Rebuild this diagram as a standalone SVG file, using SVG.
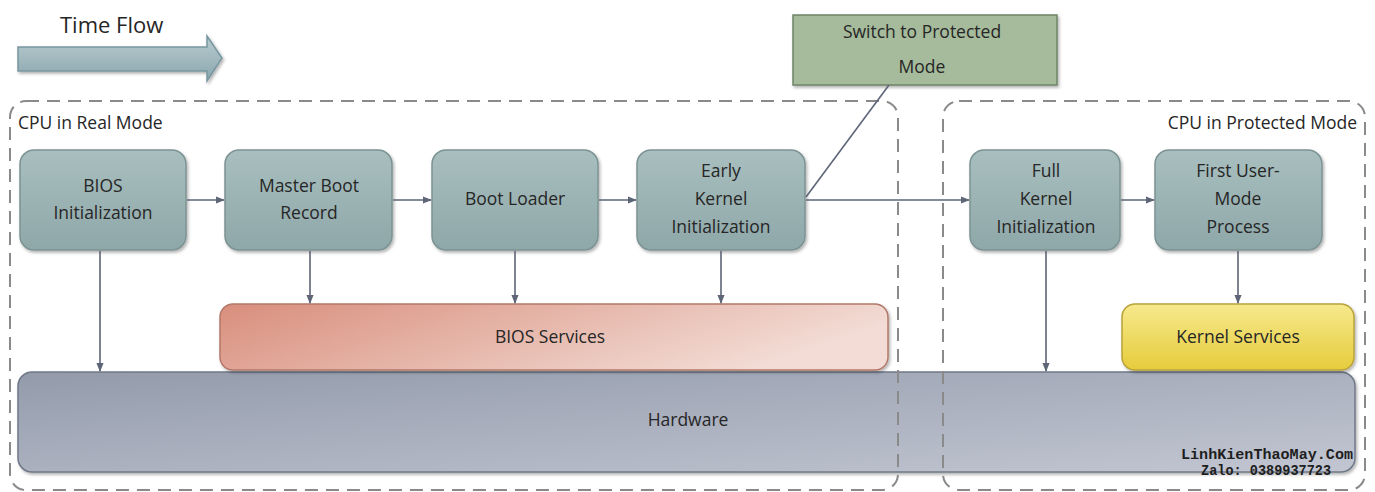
<svg xmlns="http://www.w3.org/2000/svg" width="1375" height="492" viewBox="0 0 1375 492">
<defs>
<linearGradient id="gNode" x1="0" y1="0" x2="0" y2="1"><stop offset="0" stop-color="#a9bfbf"/><stop offset="1" stop-color="#8ea7a8"/></linearGradient>
<linearGradient id="gBios" x1="0" y1="0" x2="1" y2="0.3"><stop offset="0" stop-color="#d98e7c"/><stop offset="1" stop-color="#f2dcd5"/></linearGradient>
<linearGradient id="gKern" x1="0" y1="0" x2="0" y2="1"><stop offset="0" stop-color="#f6e98c"/><stop offset="1" stop-color="#e6cc3c"/></linearGradient>
<linearGradient id="gHw" x1="0" y1="0" x2="1" y2="1"><stop offset="0" stop-color="#939bab"/><stop offset="1" stop-color="#c2c6d2"/></linearGradient>
<linearGradient id="gTime" x1="0" y1="0" x2="0" y2="1"><stop offset="0" stop-color="#b8ccd0"/><stop offset="1" stop-color="#8aa6ae"/></linearGradient>
<marker id="ah" viewBox="0 0 10 10" refX="9" refY="5" markerWidth="9" markerHeight="9" markerUnits="userSpaceOnUse" orient="auto"><path d="M0,1 L10,5 L0,9 Z" fill="#5d6577"/></marker>
<filter id="sh" x="-5%" y="-5%" width="115%" height="120%"><feDropShadow dx="1.5" dy="2" stdDeviation="1.5" flood-color="#000" flood-opacity="0.3"/></filter>
</defs>
<style>
text{font-family:"Open Sans","Noto Sans","Liberation Sans",sans-serif;fill:#262626}
.lbl{font-size:17.5px;text-anchor:middle}
.node{fill:url(#gNode);stroke:#7d9393;stroke-width:1.5;filter:url(#sh)}
.conn{stroke:#5d6577;stroke-width:1.6;fill:none}
.zone{fill:none;stroke:#8a8a8a;stroke-width:2;stroke-dasharray:13 8}
.wm{font-family:"Liberation Mono","DejaVu Sans Mono",monospace;font-weight:bold;font-size:14px;text-anchor:end;fill:#1e1e1e}
</style>
<rect width="1375" height="492" fill="#ffffff"/>

<g id="timeflow">
<text x="60" y="33" font-size="22">Time Flow</text>
<path d="M18,47 L207,47 L207,36 L222,58 L207,81 L207,71 L18,71 Z" fill="url(#gTime)" stroke="#7896a0" stroke-width="1.5" filter="url(#sh)"/>
</g>

<g id="switch">
<rect x="793" y="15" width="264" height="70" fill="#a5bb9b" stroke="#6f8467" stroke-width="1.5" filter="url(#sh)"/>
<text class="lbl" x="922" y="38">Switch to Protected</text>
<text class="lbl" x="922" y="73">Mode</text>
</g>

<g id="hardware">
<rect x="18" y="372" width="1337" height="100" rx="14" fill="url(#gHw)" stroke="#707888" stroke-width="1.5" filter="url(#sh)"/>
<text class="lbl" x="688" y="426">Hardware</text>
</g>

<g id="zone-real">
<rect class="zone" x="10" y="101" width="888" height="389" rx="16"/>
<text x="18" y="129" font-size="17.5">CPU in Real Mode</text>
</g>
<g id="zone-protected">
<rect class="zone" x="943" y="101" width="422" height="389" rx="16"/>
<text x="1357" y="129" font-size="17.5" text-anchor="end">CPU in Protected Mode</text>
</g>

<g id="bios-services">
<rect x="220" y="304" width="668" height="66" rx="13" fill="url(#gBios)" stroke="#b3786a" stroke-width="1.5" filter="url(#sh)"/>
<text class="lbl" x="550" y="343">BIOS Services</text>
</g>

<g id="kernel-services">
<rect x="1122" y="304" width="232" height="66" rx="13" fill="url(#gKern)" stroke="#b9a23a" stroke-width="1.5" filter="url(#sh)"/>
<text class="lbl" x="1238" y="343">Kernel Services</text>
</g>

<g id="bios-init">
<rect class="node" x="20" y="150" width="166" height="100" rx="14"/>
<text class="lbl" x="103" y="192">BIOS</text>
<text class="lbl" x="103" y="219">Initialization</text>
</g>
<g id="mbr">
<rect class="node" x="225" y="150" width="167" height="100" rx="14"/>
<text class="lbl" x="309" y="192">Master Boot</text>
<text class="lbl" x="309" y="219">Record</text>
</g>
<g id="boot-loader">
<rect class="node" x="432" y="150" width="166" height="100" rx="14"/>
<text class="lbl" x="515" y="205">Boot Loader</text>
</g>
<g id="early-kernel">
<rect class="node" x="637" y="150" width="168" height="100" rx="14"/>
<text class="lbl" x="721" y="177">Early</text>
<text class="lbl" x="721" y="205">Kernel</text>
<text class="lbl" x="721" y="233">Initialization</text>
</g>
<g id="full-kernel">
<rect class="node" x="970" y="150" width="150" height="100" rx="14"/>
<text class="lbl" x="1046" y="177">Full</text>
<text class="lbl" x="1046" y="205">Kernel</text>
<text class="lbl" x="1046" y="233">Initialization</text>
</g>
<g id="first-user">
<rect class="node" x="1155" y="150" width="167" height="100" rx="14"/>
<text class="lbl" x="1238" y="177">First User-</text>
<text class="lbl" x="1238" y="205">Mode</text>
<text class="lbl" x="1238" y="233">Process</text>
</g>

<g id="connectors">
<line class="conn" x1="187" y1="200" x2="224" y2="200" marker-end="url(#ah)"/>
<line class="conn" x1="393" y1="200" x2="431" y2="200" marker-end="url(#ah)"/>
<line class="conn" x1="599" y1="200" x2="636" y2="200" marker-end="url(#ah)"/>
<line class="conn" x1="806" y1="200" x2="969" y2="200" marker-end="url(#ah)"/>
<line class="conn" x1="1121" y1="200" x2="1154" y2="200" marker-end="url(#ah)"/>
<line class="conn" x1="806" y1="197" x2="889" y2="85" stroke-width="1.2"/>
<line class="conn" x1="100" y1="251" x2="100" y2="371" marker-end="url(#ah)"/>
<line class="conn" x1="310" y1="251" x2="310" y2="303" marker-end="url(#ah)"/>
<line class="conn" x1="515" y1="251" x2="515" y2="303" marker-end="url(#ah)"/>
<line class="conn" x1="721" y1="251" x2="721" y2="303" marker-end="url(#ah)"/>
<line class="conn" x1="1046" y1="251" x2="1046" y2="371" marker-end="url(#ah)"/>
<line class="conn" x1="1238" y1="251" x2="1238" y2="303" marker-end="url(#ah)"/>
</g>

<g id="watermark">
<text class="wm" x="1353" y="459" textLength="172" lengthAdjust="spacingAndGlyphs">LinhKienThaoMay.Com</text>
<text class="wm" x="1331" y="475" textLength="130" lengthAdjust="spacingAndGlyphs">Zalo: 0389937723</text>
</g>
</svg>
